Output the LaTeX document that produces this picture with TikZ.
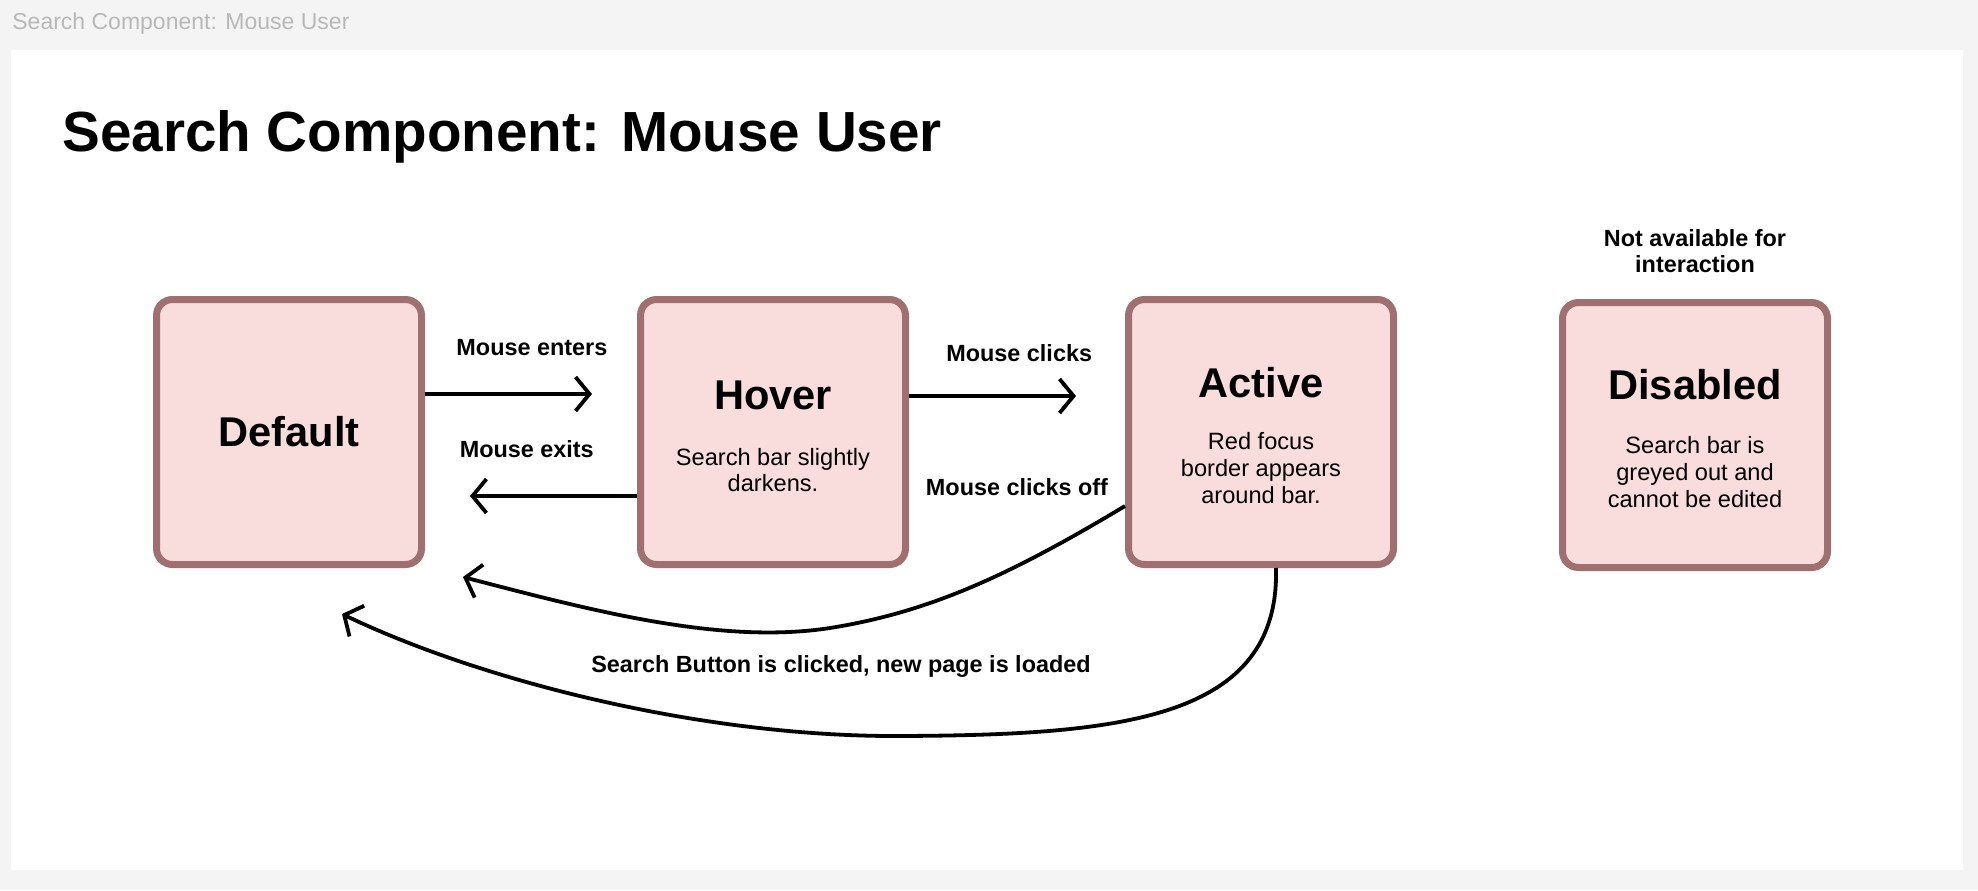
\documentclass[tikz,border=0pt]{standalone}
\usepackage{fontspec}
\setmainfont{Liberation Sans}
\usetikzlibrary{arrows.meta,positioning}
\definecolor{statefill}{HTML}{F9DCDC}
\definecolor{stateline}{HTML}{A06F6F}
\definecolor{pagegrey}{HTML}{F4F4F4}
\definecolor{tabgrey}{HTML}{B8B8B8}

\tikzset{
  state/.style={draw=stateline, fill=statefill, line width=3.5pt, rounded corners=8pt,
    minimum width=132.5pt, minimum height=132.5pt},
  statetitle/.style={font=\fontsize{20.8}{25}\selectfont\bfseries, inner sep=0pt},
  statetext/.style={font=\fontsize{11.8}{13.3}\selectfont, align=center, inner sep=0pt},
  edgelabel/.style={font=\fontsize{11.7}{13.3}\selectfont\bfseries, align=center, inner sep=0pt},
  flow/.style={line width=1.9pt, -{Straight Barb[length=7pt,width=17pt]}},
}

\begin{document}
\begin{tikzpicture}[x=0.5pt,y=-0.5pt]
    % page and panel
    \fill[pagegrey] (0,0) rectangle (1978,890);
    \fill[white] (11,50) rectangle (1963,870);
    \node[anchor=base west, inner sep=0pt, text=tabgrey, font=\fontsize{11.5}{13}\selectfont] (tab) at (12,29) {Search Component: Mouse User};
    \node[anchor=base west, inner sep=0pt, font=\fontsize{28.3}{34}\selectfont\bfseries] (title) at (62,151) {Search Component: Mouse User};

    % states
    \node[state] (default) at (289,432) {};
    \node[state] (hover) at (773,432) {};
    \node[state] (active) at (1261,432) {};
    \node[state] (disabled) at (1695,435) {};

    \node[statetitle] (defaulttitle) at (default.center) {Default};
    \node[statetitle] (hovertitle) at ([yshift=18.5pt]hover.center) {Hover};
    \node[statetext] (hovertext) at ([yshift=-19pt]hover.center) {Search bar slightly\\darkens.};
    \node[statetitle] (activetitle) at ([yshift=24.5pt]active.center) {Active};
    \node[statetext] (activetext) at ([yshift=-18pt]active.center) {Red focus\\border appears\\around bar.};
    \node[statetitle] (disabledtitle) at ([yshift=25pt]disabled.center) {Disabled};
    \node[statetext] (disabledtext) at ([yshift=-18.5pt]disabled.center) {Search bar is\\greyed out and\\cannot be edited};
    \node[edgelabel] (disablednote) at (1695,251) {Not available for\\interaction};

    % transitions
    \coordinate (entertip) at (592,394);
    \coordinate (exittip) at (470,496);
    \coordinate (clicktip) at (1076,396);
    \coordinate (offtip) at (463,577);
    \coordinate (searchtip) at (342,614);

    \draw[flow] ([yshift=19pt]default.east) -- (entertip) node[edgelabel, pos=0.64, yshift=23pt] {Mouse enters};
    \draw[flow] ([yshift=-32pt]hover.west) -- (exittip) node[edgelabel, pos=0.66, yshift=23.5pt] {Mouse exits};
    \draw[flow] ([yshift=18pt]hover.east) -- (clicktip) node[edgelabel, pos=0.66, yshift=21.5pt] {Mouse clicks};

    \draw[flow] ([yshift=-37pt]active.west) .. controls (1010,575) and (930,612) .. (830,628)
        .. controls (720,645) and (590,610) .. (offtip);
    \node[edgelabel] (offlabel) at (1017,487) {Mouse clicks off};

    \draw[flow] ([xshift=7.5pt]active.south) .. controls (1280,720) and (1120,735) .. (900,736)
        .. controls (700,737) and (480,680) .. (searchtip);
    \node[edgelabel] (searchlabel) at (841,666) {Search Button is clicked, new page is loaded};
\end{tikzpicture}
\end{document}
